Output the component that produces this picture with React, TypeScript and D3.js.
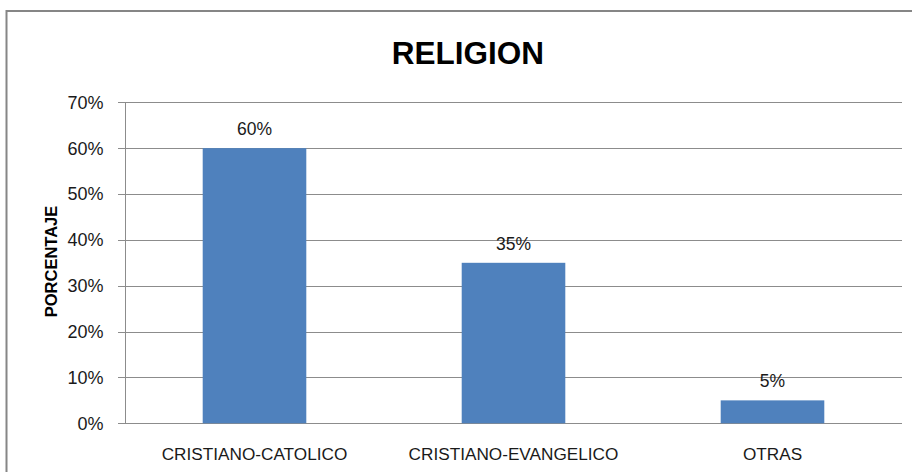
import React from "react";
import * as d3 from "d3";

const categories = ["CRISTIANO-CATOLICO", "CRISTIANO-EVANGELICO", "OTRAS"];
const values = [0.6, 0.35, 0.05];
const yTicks = [0, 0.1, 0.2, 0.3, 0.4, 0.5, 0.6, 0.7];
const title = "RELIGION";
const yTitle = "PORCENTAJE";

const W = 912;
const H = 472;
const plotLeft = 125;
const plotRight = 902;
const plotTop = 102.3;
const plotBottom = 423.3;
const FONT = "'Liberation Sans', Arial, sans-serif";
const TEXT = "#1a1a1a";
const GRID = "#8c8c8c";

export default function App() {
  const x = d3.scaleBand<string>().domain(categories).range([plotLeft, plotRight]).padding(0);
  const y = d3.scaleLinear().domain([0, 0.7]).range([plotBottom, plotTop]);
  const barW = x.bandwidth() * 0.4;
  const fmt = d3.format(".0%");

  return (
    <svg
      width={W}
      height={H}
      style={{ position: "absolute", left: 0, top: 0, display: "block", background: "#fff" }}
      fontFamily={FONT}
    >
      <rect x={0} y={0} width={W} height={H} fill="#fff" />
      <rect x={6.5} y={11} width={1000} height={1000} fill="none" stroke="#868686" strokeWidth={2} />
      <text x={468} y={63.5} textAnchor="middle" fontSize={31.5} fontWeight="bold" fill="#000">
        {title}
      </text>
      {yTicks.map((t) => (
        <g key={t}>
          <line x1={118} x2={plotRight} y1={Math.round(y(t)) + 0.5} y2={Math.round(y(t)) + 0.5} stroke={GRID} strokeWidth={1} />
          <text x={103.5} y={y(t)} dy="0.36em" textAnchor="end" fontSize={18} fill={TEXT}>
            {fmt(t)}
          </text>
        </g>
      ))}
      <line x1={plotLeft + 0.5} x2={plotLeft + 0.5} y1={plotTop} y2={plotBottom} stroke={GRID} strokeWidth={1} />
      {categories.map((c, i) => {
        const cx = (x(c) as number) + x.bandwidth() / 2;
        return (
          <g key={c}>
            <rect x={cx - barW / 2} y={y(values[i])} width={barW} height={y(0) - y(values[i])} fill="#4F81BD" />
            <text x={cx} y={y(values[i]) - 13} textAnchor="middle" fontSize={17.5} fill={TEXT}>
              {fmt(values[i])}
            </text>
            <text x={cx} y={459.5} textAnchor="middle" fontSize={17.2} fill={TEXT}>
              {c}
            </text>
          </g>
        );
      })}
      <text
        transform={`translate(56.5, ${(205 + 318) / 2}) rotate(-90)`}
        textAnchor="middle"
        fontSize={16.5}
        fontWeight="bold"
        fill="#000"
      >
        {yTitle}
      </text>
    </svg>
  );
}
